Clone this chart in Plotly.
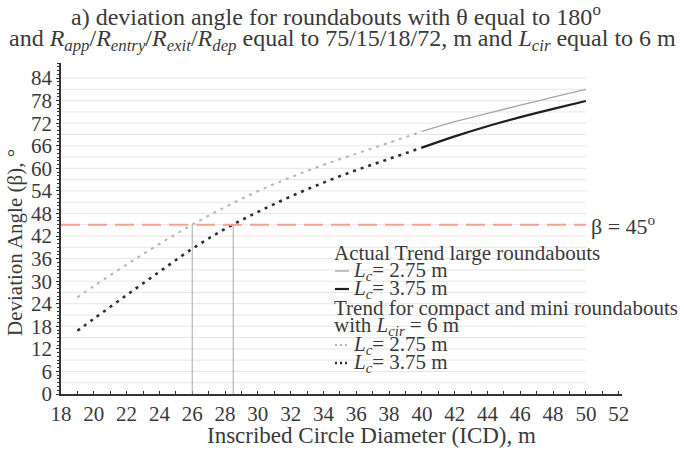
import plotly.graph_objects as go

# ---------------- data ----------------
icd_compact = [19, 20, 22, 24, 26, 28, 30, 32, 34, 36, 38, 40]
beta_compact_275 = [25.7, 28.7, 34.4, 39.9, 45.0, 49.7, 53.9, 57.6, 60.9, 63.9, 66.8, 69.8]
beta_compact_375 = [16.8, 20.0, 26.3, 32.5, 38.6, 43.9, 48.4, 52.5, 56.2, 59.5, 62.5, 65.5]

icd_large = [40, 42, 44, 46, 48, 50]
beta_large_275 = [69.8, 72.4, 74.6, 76.8, 78.9, 81.0]
beta_large_375 = [65.5, 68.5, 71.2, 73.6, 75.8, 77.9]

beta_limit = 45
icd_at_limit = [26.0, 28.5]
grid_values = list(range(3, 85, 3))
x_ticks = list(range(18, 53, 2))
y_ticks = list(range(0, 85, 6))
grid_x_end = 50

FONT = "Liberation Serif"
TXT = "#3a3a3a"

W, H = 684, 469
ML, MR, MT, MB = 61, 62, 63, 75
PW, PH = W - ML - MR, H - MT - MB


def px(x):
    return (x - ML) / PW


def py(y):
    return (H - MB - y) / PH


fig = go.Figure()

# gridlines (stop at ICD 50 as in the original)
for g in grid_values:
    fig.add_shape(type="line", xref="x", yref="y", x0=18, x1=grid_x_end, y0=g, y1=g,
                  line=dict(color="#e6e6e6", width=1), layer="below")

# legend background (covers the gridlines)
fig.add_shape(type="rect", xref="paper", yref="paper", x0=px(322), x1=px(600), y0=py(390), y1=py(236),
              fillcolor="white", line=dict(width=0), layer="below")

# beta = 45 reference line
fig.add_shape(type="line", xref="x", yref="y", x0=18, x1=grid_x_end, y0=beta_limit, y1=beta_limit,
              line=dict(color="#f4a395", width=2, dash="19px,8px"))
# vertical drop lines
for xv in icd_at_limit:
    fig.add_shape(type="line", xref="x", yref="y", x0=xv, x1=xv, y0=0, y1=beta_limit,
                  line=dict(color="#a8a8a8", width=1))

# curves
fig.add_trace(go.Scatter(x=icd_compact, y=beta_compact_275, mode="lines", line_shape="spline",
                         line=dict(color="#b5b5b5", width=2, dash="3px,5px"),
                         name="compact Lc=2.75 m", showlegend=False))
fig.add_trace(go.Scatter(x=icd_compact, y=beta_compact_375, mode="lines", line_shape="spline",
                         line=dict(color="#2e2e2e", width=2.6, dash="3px,5px"),
                         name="compact Lc=3.75 m", showlegend=False))
fig.add_trace(go.Scatter(x=icd_large, y=beta_large_275, mode="lines", line_shape="spline",
                         line=dict(color="#a5a5a5", width=1.3),
                         name="large Lc=2.75 m", showlegend=False))
fig.add_trace(go.Scatter(x=icd_large, y=beta_large_375, mode="lines", line_shape="spline",
                         line=dict(color="#1e1e1e", width=2.2),
                         name="large Lc=3.75 m", showlegend=False))


def ann(text, x, y, size=19, xanchor="center", angle=0):
    fig.add_annotation(text=text, x=px(x), y=py(y), xref="paper", yref="paper", showarrow=False,
                       xanchor=xanchor, yanchor="middle", textangle=angle,
                       font=dict(family=FONT, size=size, color=TXT))


# titles
ann("a) deviation angle for roundabouts with θ equal to 180<sup>o</sup>", 336, 15, 24)
ann("and <i>R<sub>app</sub></i>/<i>R<sub>entry</sub></i>/<i>R<sub>exit</sub></i>/<i>R<sub>dep</sub></i> "
    "equal to 75/15/18/72, m and <i>L<sub>cir</sub></i> equal to 6 m", 342, 40, 24)

# axis titles
ann("Inscribed Circle Diameter (ICD), m", 371, 435, 23)
ann("Deviation Angle (β), °", 15, 243, 21, angle=-90)

# beta label
ann("β = 45<sup>o</sup>", 589, 225, 22, xanchor="left")

# legend (drawn manually to match the original's compact layout)
LX = 332
rows = [
    ("Actual Trend large roundabouts", None, 253),
    ("<i>L<sub>c</sub></i>= 2.75 m", dict(color="#a5a5a5", width=1.3), 271),
    ("<i>L<sub>c</sub></i>= 3.75 m", dict(color="#1e1e1e", width=2.2), 289),
    ("Trend for compact and mini roundabouts", None, 308),
    ("with <i>L<sub>cir</sub></i> = 6 m", None, 326),
    ("<i>L<sub>c</sub></i>= 2.75 m", dict(color="#b5b5b5", width=2, dash="2px,3px"), 345),
    ("<i>L<sub>c</sub></i>= 3.75 m", dict(color="#2e2e2e", width=2.4, dash="2px,3px"), 363),
]
for text, line, y in rows:
    if line is None:
        ann(text, LX, y, 21, xanchor="left")
    else:
        fig.add_shape(type="line", xref="paper", yref="paper", x0=px(LX + 3), x1=px(LX + 17),
                      y0=py(y), y1=py(y), line=line)
        ann(text, LX + 19, y, 21, xanchor="left")

fig.update_layout(
    width=W, height=H,
    margin=dict(l=ML, r=MR, t=MT, b=MB),
    paper_bgcolor="white", plot_bgcolor="white",
    showlegend=False,
    xaxis=dict(range=[18, 52.2], tickvals=x_ticks, showgrid=False, zeroline=False,
               showline=True, linecolor="#333", linewidth=1.5,
               ticks="inside", ticklen=3, tickcolor="#333",
               minor=dict(dtick=1, ticks="inside", ticklen=3, tickcolor="#333"),
               tickfont=dict(family=FONT, size=21, color=TXT)),
    yaxis=dict(range=[0, 88], tickvals=y_ticks, showgrid=False, zeroline=False,
               showline=True, linecolor="#333", linewidth=1.5,
               ticks="outside", ticklen=3, tickcolor="#333",
               minor=dict(dtick=1, ticks="outside", ticklen=2, tickcolor="#333"),
               tickfont=dict(family=FONT, size=21, color=TXT)),
)

fig.write_html("out.html")
